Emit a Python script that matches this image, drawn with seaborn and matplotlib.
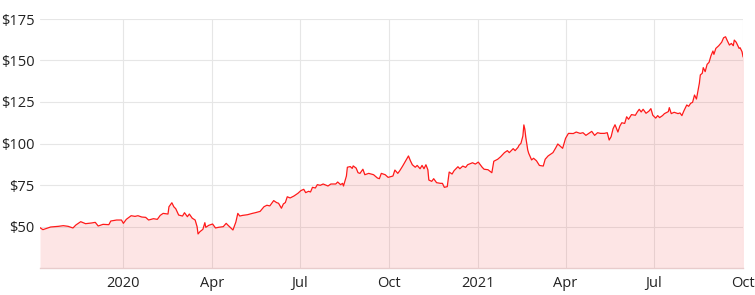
import matplotlib
matplotlib.use("Agg")
import matplotlib.pyplot as plt
import seaborn as sns
import pandas as pd

dates = [
    "2019-10-07", "2019-10-10", "2019-10-18", "2019-10-26", "2019-10-31", "2019-11-05", "2019-11-10",
    "2019-11-13", "2019-11-18", "2019-11-23", "2019-11-29", "2019-12-03", "2019-12-06", "2019-12-11",
    "2019-12-17", "2019-12-19", "2019-12-25", "2019-12-30", "2020-01-01", "2020-01-04", "2020-01-09",
    "2020-01-13", "2020-01-16", "2020-01-20", "2020-01-24", "2020-01-27", "2020-02-01", "2020-02-05",
    "2020-02-08", "2020-02-11", "2020-02-16", "2020-02-17", "2020-02-20", "2020-02-22", "2020-02-24",
    "2020-02-27", "2020-03-02", "2020-03-04", "2020-03-07", "2020-03-09", "2020-03-12", "2020-03-15",
    "2020-03-17", "2020-03-18", "2020-03-20", "2020-03-23", "2020-03-25", "2020-03-26", "2020-03-29",
    "2020-04-02", "2020-04-05", "2020-04-08", "2020-04-13", "2020-04-16", "2020-04-18", "2020-04-23",
    "2020-04-26", "2020-04-28", "2020-04-30", "2020-05-03", "2020-05-08", "2020-05-13", "2020-05-16",
    "2020-05-21", "2020-05-25", "2020-05-28", "2020-05-31", "2020-06-04", "2020-06-07", "2020-06-09",
    "2020-06-12", "2020-06-14", "2020-06-16", "2020-06-18", "2020-06-21", "2020-06-25", "2020-06-29",
    "2020-07-02", "2020-07-05", "2020-07-07", "2020-07-10", "2020-07-12", "2020-07-14", "2020-07-17",
    "2020-07-19", "2020-07-22", "2020-07-25", "2020-07-30", "2020-08-02", "2020-08-07", "2020-08-09",
    "2020-08-12", "2020-08-14", "2020-08-15", "2020-08-18", "2020-08-19", "2020-08-22", "2020-08-24",
    "2020-08-25", "2020-08-28", "2020-08-30", "2020-09-01", "2020-09-04", "2020-09-06", "2020-09-10",
    "2020-09-15", "2020-09-19", "2020-09-21", "2020-09-23", "2020-09-27", "2020-09-30", "2020-10-05",
    "2020-10-07", "2020-10-10", "2020-10-12", "2020-10-15", "2020-10-17", "2020-10-21", "2020-10-23",
    "2020-10-25", "2020-10-28", "2020-10-30", "2020-11-02", "2020-11-04", "2020-11-06", "2020-11-08",
    "2020-11-10", "2020-11-11", "2020-11-14", "2020-11-16", "2020-11-19", "2020-11-23", "2020-11-25",
    "2020-11-27", "2020-11-30", "2020-12-02", "2020-12-05", "2020-12-07", "2020-12-11", "2020-12-13",
    "2020-12-16", "2020-12-19", "2020-12-21", "2020-12-26", "2020-12-29", "2021-01-01", "2021-01-05",
    "2021-01-07", "2021-01-11", "2021-01-15", "2021-01-17", "2021-01-21", "2021-01-24", "2021-01-28",
    "2021-01-31", "2021-02-02", "2021-02-06", "2021-02-08", "2021-02-11", "2021-02-12", "2021-02-14",
    "2021-02-16", "2021-02-17", "2021-02-18", "2021-02-19", "2021-02-21", "2021-02-22", "2021-02-25",
    "2021-02-27", "2021-03-02", "2021-03-05", "2021-03-09", "2021-03-11", "2021-03-14", "2021-03-19",
    "2021-03-22", "2021-03-24", "2021-03-27", "2021-03-29", "2021-04-01", "2021-04-04", "2021-04-09",
    "2021-04-12", "2021-04-16", "2021-04-19", "2021-04-22", "2021-04-25", "2021-04-28", "2021-05-01",
    "2021-05-04", "2021-05-07", "2021-05-11", "2021-05-14", "2021-05-16", "2021-05-18", "2021-05-20",
    "2021-05-22", "2021-05-25", "2021-05-27", "2021-05-29", "2021-06-01", "2021-06-03", "2021-06-05",
    "2021-06-08", "2021-06-12", "2021-06-14", "2021-06-16", "2021-06-18", "2021-06-20", "2021-06-23",
    "2021-06-26", "2021-06-28", "2021-06-30", "2021-07-03", "2021-07-05", "2021-07-07", "2021-07-10",
    "2021-07-12", "2021-07-16", "2021-07-17", "2021-07-19", "2021-07-22", "2021-07-26", "2021-07-28",
    "2021-07-30", "2021-08-01", "2021-08-04", "2021-08-06", "2021-08-08", "2021-08-10", "2021-08-12",
    "2021-08-14", "2021-08-17", "2021-08-18", "2021-08-20", "2021-08-21", "2021-08-23", "2021-08-25",
    "2021-08-27", "2021-08-29", "2021-08-31", "2021-09-01", "2021-09-03", "2021-09-06", "2021-09-09",
    "2021-09-11", "2021-09-13", "2021-09-15", "2021-09-17", "2021-09-19", "2021-09-21", "2021-09-22",
    "2021-09-24", "2021-09-27", "2021-09-28", "2021-09-30", "2021-10-01", "2021-10-02",
]

prices = [
    49.3, 48.1, 49.7, 50.1, 50.5, 50.1, 49.1,
    50.9, 52.9, 51.7, 52.1, 52.5, 50.3, 51.3,
    51.1, 53.3, 53.9, 53.9, 51.9, 54.3, 56.5,
    56.1, 56.5, 55.7, 55.5, 53.9, 54.7, 54.3,
    56.7, 57.9, 57.5, 61.9, 64.3, 61.9, 60.7,
    56.9, 56.3, 58.3, 55.9, 57.5, 55.0, 53.9,
    49.9, 45.5, 46.9, 48.3, 52.3, 49.5, 50.7,
    51.5, 49.1, 49.5, 49.9, 51.9, 50.7, 47.9,
    52.7, 57.9, 56.3, 56.7, 57.1, 57.9, 58.3,
    59.1, 61.9, 62.8, 62.4, 65.6, 64.4, 64.0,
    61.0, 63.6, 64.4, 67.9, 67.2, 68.4, 70.0,
    71.6, 72.4, 70.4, 71.2, 70.8, 73.6, 73.2,
    75.2, 74.8, 75.6, 74.4, 75.6, 75.6, 76.8,
    75.2, 76.0, 74.4, 80.4, 85.7, 86.1, 85.0,
    86.5, 85.2, 82.4, 82.0, 84.5, 81.2, 82.0,
    81.2, 79.2, 78.8, 82.0, 81.2, 79.6, 80.4,
    84.0, 82.0, 83.6, 86.4, 88.4, 92.5, 89.6,
    87.2, 85.7, 86.8, 84.8, 86.8, 84.8, 87.2,
    84.2, 78.0, 77.2, 78.8, 76.4, 76.0, 76.0,
    73.6, 74.0, 82.8, 81.6, 83.6, 86.0, 84.8,
    86.4, 85.6, 87.2, 88.4, 87.6, 88.8, 85.7,
    84.5, 84.2, 82.4, 89.3, 90.5, 92.0, 94.5,
    95.7, 94.5, 96.9, 95.7, 97.7, 98.9, 100.1,
    104.5, 111.2, 108.6, 103.7, 96.1, 94.1, 90.1,
    91.1, 89.6, 86.8, 86.4, 90.5, 92.5, 94.5,
    97.5, 99.7, 98.1, 97.1, 103.1, 106.1, 106.0,
    106.9, 106.1, 106.5, 104.9, 106.1, 107.3, 104.9,
    106.5, 106.1, 106.1, 106.5, 102.1, 104.1, 108.9,
    111.3, 106.9, 110.5, 112.5, 112.1, 116.1, 114.6,
    117.4, 117.0, 119.0, 120.6, 119.0, 120.6, 118.2,
    119.5, 121.0, 117.0, 115.3, 116.8, 115.6, 116.8,
    118.0, 119.2, 121.6, 118.0, 118.8, 118.0, 118.4,
    116.8, 119.6, 123.2, 122.4, 124.2, 124.8, 129.2,
    126.8, 136.3, 141.3, 142.3, 145.7, 143.3, 147.7,
    148.9, 152.9, 155.7, 153.7, 157.3, 158.9, 161.0,
    163.7, 164.3, 161.7, 159.3, 160.3, 158.9, 162.3,
    161.0, 157.3, 157.7, 155.3, 152.3, 151.5,
]

tick_dates = ["2020-01-01", "2020-04-01", "2020-07-01", "2020-10-01",
              "2021-01-01", "2021-04-01", "2021-07-01", "2021-10-01"]
tick_labels = ["2020", "Apr", "Jul", "Oct", "2021", "Apr", "Jul", "Oct"]
y_ticks = [50, 75, 100, 125, 150, 175]
y_labels = ["$50", "$75", "$100", "$125", "$150", "$175"]

df = pd.DataFrame({"date": pd.to_datetime(dates), "price": prices})

sns.set_theme(style="white")
plt.rcParams["font.family"] = ["Open Sans", "DejaVu Sans"]

fig = plt.figure(figsize=(7.55, 2.95), dpi=100)
ax = fig.add_axes([40 / 755, 1 - 268 / 295, 703 / 755, 249 / 295])

ax.grid(True, color="#e6e6e6", linewidth=0.8, zorder=0)
ax.set_axisbelow(True)
ax.fill_between(df["date"], df["price"], 25, color="#f51a1a", alpha=0.11, linewidth=0, zorder=1)
sns.lineplot(data=df, x="date", y="price", ax=ax, color="#ff1a1a", linewidth=0.9, zorder=3)

ax.set_xlim(df["date"].iloc[0], pd.Timestamp(tick_dates[-1]))
ax.set_ylim(25, 175)
ax.set_yticks(y_ticks)
ax.set_yticklabels(y_labels)
ax.set_xticks(pd.to_datetime(tick_dates))
ax.set_xticklabels(tick_labels)
ax.set_xlabel("")
ax.set_ylabel("")
for s in ax.spines.values():
    s.set_visible(False)
ax.spines["bottom"].set_visible(True)
ax.spines["bottom"].set_color("#e8cccc")
ax.spines["bottom"].set_linewidth(1.0)
ax.tick_params(axis="both", length=0, labelsize=10.5, labelcolor="#222222")
ax.tick_params(axis="y", pad=4)
ax.tick_params(axis="x", pad=6)

fig.savefig("out.png", dpi=100)
